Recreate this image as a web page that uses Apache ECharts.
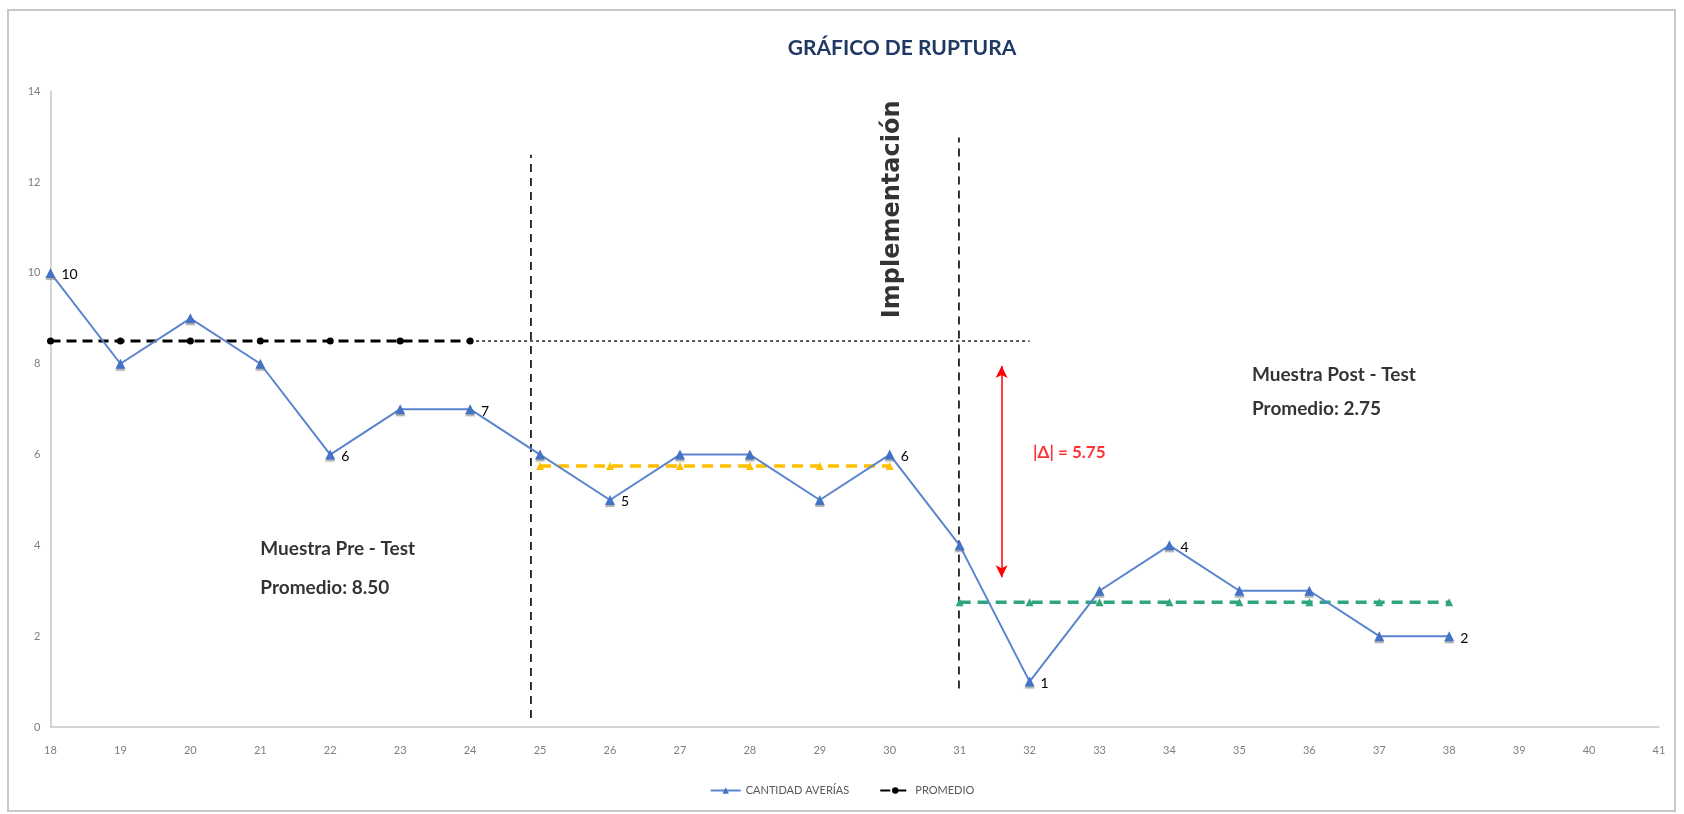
<!DOCTYPE html>
<html>
<head>
<meta charset="utf-8">
<title>Gráfico de ruptura</title>
<script src="https://cdn.jsdelivr.net/npm/echarts@6/dist/echarts.min.js"></script>
<style>
  html, body { margin: 0; padding: 0; background: #ffffff; }
  #chart { width: 1684px; height: 814px; }
</style>
</head>
<body>
<div id="chart"></div>
<script>
// Semanas evaluadas y averías registradas en cada una
const semanas = [18, 19, 20, 21, 22, 23, 24, 25, 26, 27, 28, 29, 30, 31, 32, 33, 34, 35, 36, 37, 38];
const averias = [10, 8, 9, 8, 6, 7, 7, 6, 5, 6, 6, 5, 6, 4, 1, 3, 4, 3, 3, 2, 2];
// Semanas cuyo valor se rotula junto al punto
const semanasRotuladas = [18, 22, 24, 26, 30, 32, 34, 38];

// Promedios por tramo
const promedioPre = 8.5;
const promedioMedio = 5.75;
const promedioPost = 2.75;
const tramoPre = [18, 19, 20, 21, 22, 23, 24];
const tramoMedio = [25, 26, 27, 28, 29, 30];
const tramoPost = [31, 32, 33, 34, 35, 36, 37, 38];
const tramoReferencia = [24, 32];
const diferencia = 5.75;

// Ejes
const ejeX = { min: 18, max: 41, paso: 1 };
const ejeY = { min: 0, max: 14, paso: 2 };

const FUENTE = 'Lato, "Open Sans", sans-serif';

const puntos = semanas.map((s, i) => [s, averias[i]]);
const linea = (xs, v) => xs.map(x => [x, v]);

function nota(x, y, texto, estilo) {
  return {
    type: 'scatter',
    silent: true,
    symbolSize: 0,
    z: 10,
    data: [[x, y]],
    label: Object.assign({
      show: true,
      formatter: texto,
      position: 'right',
      distance: 0,
      color: '#000000',
      fontFamily: FUENTE,
      fontWeight: 'bold',
      fontSize: 19
    }, estilo || {})
  };
}

function verticalDiscontinua(x, y0, y1) {
  return {
    type: 'line',
    silent: true,
    symbol: 'none',
    data: [[x, y0], [x, y1]],
    lineStyle: { color: '#000000', width: 1.6, type: [8, 6] },
    z: 3
  };
}

const chart = echarts.init(document.getElementById('chart'), null, { renderer: 'canvas' });

chart.setOption({
  animation: false,
  backgroundColor: '#ffffff',
  title: {
    text: 'GRÁFICO DE RUPTURA',
    left: 897,
    textAlign: 'center',
    top: 33,
    textStyle: { color: '#1F3864', fontFamily: FUENTE, fontWeight: 'bold', fontSize: 21 }
  },
  graphic: [{
    type: 'rect',
    shape: { x: 8, y: 10, width: 1667, height: 801 },
    style: { fill: 'none', stroke: '#C8C8C8', lineWidth: 2 },
    silent: true,
    z: -1
  }],
  legend: {
    data: ['CANTIDAD AVERÍAS', 'PROMEDIO'],
    left: 'center',
    top: 780,
    itemWidth: 30,
    itemHeight: 8,
    itemGap: 30,
    textStyle: { color: '#595959', fontFamily: FUENTE, fontSize: 11 }
  },
  grid: { left: 50.5, right: 25, top: 91.3, bottom: 87, containLabel: false },
  xAxis: {
    type: 'value',
    min: ejeX.min,
    max: ejeX.max,
    interval: ejeX.paso,
    axisLine: { show: true, lineStyle: { color: '#C8C8C8', width: 1.5 } },
    axisTick: { show: false },
    splitLine: { show: false },
    axisLabel: { color: '#7F7F7F', fontFamily: FUENTE, fontSize: 11, margin: 18 }
  },
  yAxis: {
    type: 'value',
    min: ejeY.min,
    max: ejeY.max,
    interval: ejeY.paso,
    axisLine: { show: true, lineStyle: { color: '#C8C8C8', width: 1.5 } },
    axisTick: { show: false },
    splitLine: { show: false },
    axisLabel: { color: '#7F7F7F', fontFamily: FUENTE, fontSize: 11, margin: 10 }
  },
  series: [
    // Línea punteada de referencia del promedio inicial
    {
      type: 'line',
      silent: true,
      symbol: 'none',
      data: linea(tramoReferencia, promedioPre),
      lineStyle: { color: '#000000', width: 1.3, type: [3, 3] },
      z: 2
    },
    verticalDiscontinua(24.87, 0.2, 12.6),
    verticalDiscontinua(30.99, 0.85, 12.98),
    {
      name: 'PROMEDIO',
      type: 'line',
      data: linea(tramoPre, promedioPre),
      symbol: 'circle',
      symbolSize: 7,
      itemStyle: { color: '#000000' },
      lineStyle: { color: '#000000', width: 3, type: [10, 6] },
      z: 4
    },
    {
      type: 'line',
      silent: true,
      data: linea(tramoMedio, promedioMedio),
      symbol: 'triangle',
      symbolSize: 8,
      itemStyle: { color: '#FFC000' },
      lineStyle: { color: '#FFC000', width: 3.5, type: [11, 7] },
      z: 4
    },
    {
      type: 'line',
      silent: true,
      data: linea(tramoPost, promedioPost),
      symbol: 'triangle',
      symbolSize: 8,
      itemStyle: { color: '#2EA57C' },
      lineStyle: { color: '#2EA57C', width: 3.5, type: [11, 7] },
      z: 4
    },
    {
      name: 'CANTIDAD AVERÍAS',
      type: 'line',
      data: puntos,
      symbol: 'triangle',
      symbolSize: 10,
      itemStyle: { color: '#4472C4', shadowColor: 'rgba(120,120,120,0.6)', shadowOffsetY: 2, shadowBlur: 1 },
      lineStyle: { color: '#5B84CF', width: 2 },
      label: {
        show: true,
        position: 'right',
        distance: 6,
        offset: [0, 2],
        color: '#000000',
        fontFamily: FUENTE,
        fontSize: 14,
        formatter: p => semanasRotuladas.includes(p.value[0]) ? String(p.value[1]) : ''
      },
      z: 6
    },
    // Flecha de la diferencia entre promedios
    {
      type: 'line',
      silent: true,
      data: [],
      markLine: {
        silent: true,
        symbol: ['arrow', 'arrow'],
        symbolSize: [9, 12],
        label: { show: false },
        lineStyle: { color: '#FF0000', width: 1.5, type: 'solid' },
        data: [[{ coord: [31.6, promedioPre - 0.55] }, { coord: [31.6, promedioPost + 0.55] }]]
      }
    },
    nota(32.05, 6.05, '|Δ| = ' + diferencia.toFixed(2), { color: '#FF0000', fontSize: 17 }),
    nota(30.04, 11.4, 'Implementación', {
      position: 'inside',
      rotate: 90,
      fontFamily: '"DejaVu Sans", sans-serif',
      fontSize: 24
    }),
    nota(21.0, 3.92, 'Muestra Pre - Test'),
    nota(21.0, 3.07, 'Promedio: ' + promedioPre.toFixed(2)),
    nota(35.18, 7.75, 'Muestra Post - Test'),
    nota(35.18, 7.0, 'Promedio: ' + promedioPost.toFixed(2))
  ]
});
</script>
</body>
</html>
